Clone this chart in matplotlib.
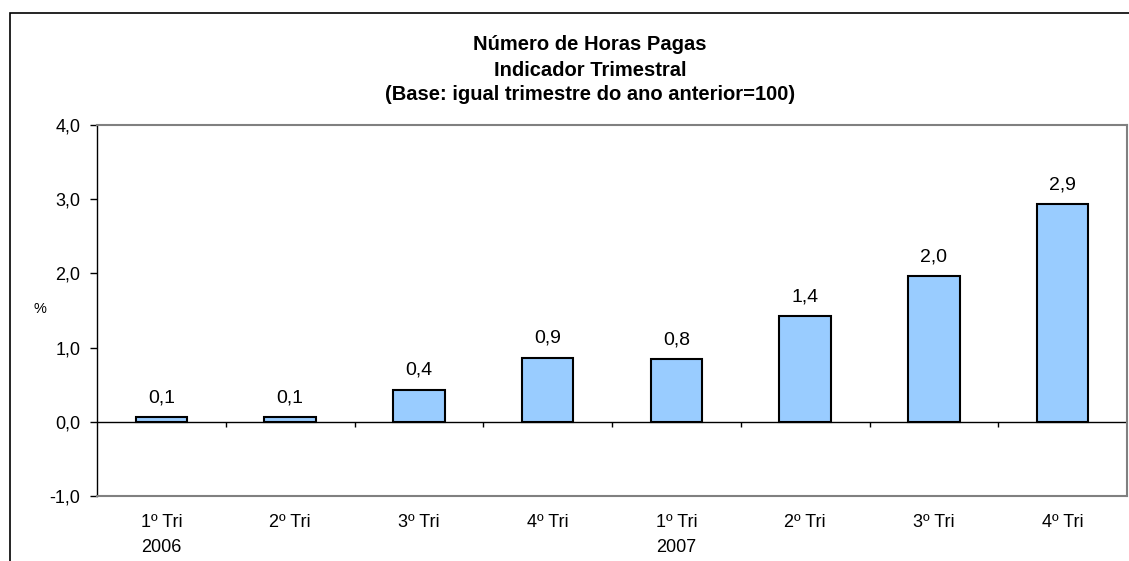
import matplotlib
matplotlib.use("Agg")
import matplotlib.pyplot as plt
from matplotlib.patches import Rectangle
import numpy as np

plt.rcParams["font.family"] = ["Liberation Sans", "DejaVu Sans"]

# data
quarters = ["1º Tri\n2006", "2º Tri", "3º Tri", "4º Tri",
            "1º Tri\n2007", "2º Tri", "3º Tri", "4º Tri"]
values = [0.06, 0.06, 0.43, 0.86, 0.84, 1.42, 1.96, 2.93]
labels = ["0,1", "0,1", "0,4", "0,9", "0,8", "1,4", "2,0", "2,9"]
yticks = [-1.0, 0.0, 1.0, 2.0, 3.0, 4.0]
title_lines = ["Número de Horas Pagas", "Indicador Trimestral",
               "(Base: igual trimestre do ano anterior=100)"]

W, H = 1129, 561
fig = plt.figure(figsize=(W / 100, H / 100), dpi=100)
ax = fig.add_axes([97 / W, 1 - 496 / H, (1127 - 97) / W, (496 - 125) / H])

x = np.arange(len(values))
ax.bar(x, values, width=0.4, color="#99CCFF", edgecolor="black", linewidth=1.5, zorder=3)
for xi, v, lab in zip(x, values, labels):
    ax.text(xi, v + 0.15, lab, ha="center", va="bottom", fontsize=14, zorder=4)

ax.set_xlim(-0.5, len(values) - 0.5)
ax.set_ylim(-1.0, 4.0)
ax.set_yticks(yticks)
ax.set_yticklabels([f"{t:.1f}".replace(".", ",") for t in yticks], fontsize=13)
ax.tick_params(axis="y", direction="out", length=5, width=1, pad=7)
ax.set_xticks(x)
ax.set_xticklabels(quarters, fontsize=13, linespacing=1.6)
ax.tick_params(axis="x", length=0, pad=13)

# zero axis line with category boundary ticks
ax.axhline(0, color="black", linewidth=1, zorder=2)
bounds = np.arange(len(values) + 1) - 0.5
ax.vlines(bounds[1:-1], -0.07, 0, color="black", linewidth=1, zorder=2)

for s in ["top", "right", "bottom"]:
    ax.spines[s].set_color("#808080")
    ax.spines[s].set_linewidth(1.5)
ax.spines["left"].set_color("black")
ax.spines["left"].set_linewidth(1)

fig.text(40 / W, 1 - 309 / H, "%", ha="center", va="center", fontsize=10.5)

for i, line in enumerate(title_lines):
    fig.text(590 / W, 1 - (45 + 25 * i) / H, line, ha="center", va="center",
             fontsize=14.5, fontweight="bold")

# outer chart frame (cut off on right and bottom)
fig.patches.append(Rectangle((10 / W, -0.1), 1.2, 1.1 - 13 / H, transform=fig.transFigure,
                             fill=False, edgecolor="black", linewidth=1.2, clip_on=False))

fig.savefig("out.png", dpi=100)
